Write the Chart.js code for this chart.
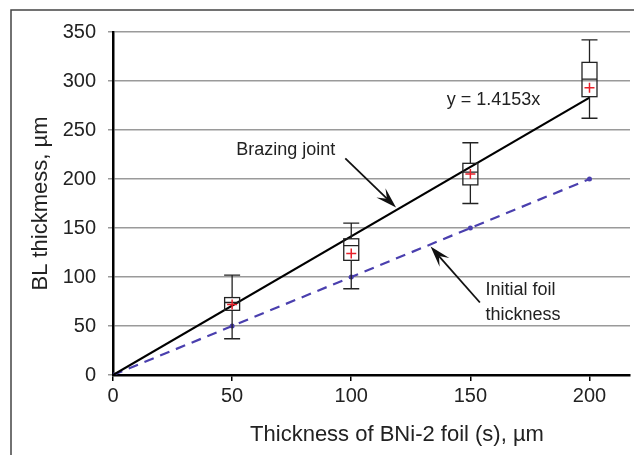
<!DOCTYPE html>
<html>
<head>
<meta charset="utf-8">
<script src="https://cdn.jsdelivr.net/npm/chart.js@4"></script>
<style>
  html, body { margin: 0; padding: 0; background: #fff; }
  #wrap { width: 634px; height: 455px; position: relative; }
</style>
</head>
<body>
<div id="wrap"><canvas id="chart" width="634" height="455"></canvas></div>
<script>
// foil thickness categories (x), µm
const foilX = [50, 100, 150, 200];
// box plot stats of measured BL thickness
const whiskerLow  = [37, 88, 175, 262];
const boxQ1       = [66, 117, 194, 284];
const boxMedian   = [74, 132, 207, 302];
const boxQ3       = [79, 139, 216, 319];
const whiskerHigh = [102, 155, 237, 342];
const meanValues  = [72, 124, 205, 293];
// regression line y = 1.4153x (end points)
const fitX = [0, 200];
const fitY = [0, 283];
// initial foil thickness
const initX = [0, 50, 100, 150, 200];
const initY = [0, 50, 100, 150, 200];
const xTicks = [0, 50, 100, 150, 200];
const yTicks = [0, 50, 100, 150, 200, 250, 300, 350];

const FONT = "'Liberation Sans', Arial, sans-serif";

// frame + box plots + annotations
const extras = {
  id: 'extras',
  beforeDraw(chart) {
    const c = chart.ctx;
    c.save();
    c.fillStyle = '#fff';
    c.fillRect(0, 0, chart.width, chart.height);
    c.strokeStyle = '#444';
    c.lineWidth = 1.5;
    c.beginPath();
    c.moveTo(11, chart.height);
    c.lineTo(11, 10);
    c.lineTo(chart.width, 10);
    c.stroke();
    c.restore();
  },
  afterDatasetsDraw(chart) {
    const c = chart.ctx, xs = chart.scales.x, ys = chart.scales.y;
    c.save();
    c.strokeStyle = '#222';
    c.lineWidth = 1.3;
    foilX.forEach((v, i) => {
      const px = xs.getPixelForValue(v);
      const hw = 7.5, cap = 8;
      const yl = ys.getPixelForValue(whiskerLow[i]);
      const y1 = ys.getPixelForValue(boxQ1[i]);
      const ym = ys.getPixelForValue(boxMedian[i]);
      const y3 = ys.getPixelForValue(boxQ3[i]);
      const yh = ys.getPixelForValue(whiskerHigh[i]);
      c.beginPath();
      c.moveTo(px, yh); c.lineTo(px, y3);
      c.moveTo(px, y1); c.lineTo(px, yl);
      c.moveTo(px - cap, yh); c.lineTo(px + cap, yh);
      c.moveTo(px - cap, yl); c.lineTo(px + cap, yl);
      c.moveTo(px - hw, ym); c.lineTo(px + hw, ym);
      c.stroke();
      c.strokeRect(px - hw, y3, hw * 2, y1 - y3);
    });
    // red mean markers on top of boxes
    c.strokeStyle = '#e8202a';
    c.lineWidth = 1.5;
    meanValues.forEach((m, i) => {
      const px = xs.getPixelForValue(foilX[i]), py = ys.getPixelForValue(m);
      c.beginPath();
      c.moveTo(px - 5, py); c.lineTo(px + 5, py);
      c.moveTo(px, py - 5); c.lineTo(px, py + 5);
      c.stroke();
    });

    // annotations
    const P = (x, y) => [xs.getPixelForValue(x), ys.getPixelForValue(y)];
    const arrow = (from, to) => {
      const [x0, y0] = P(...from), [x1, y1] = P(...to);
      const a = Math.atan2(y1 - y0, x1 - x0), L = 21, W = 6.5;
      c.strokeStyle = '#111'; c.fillStyle = '#111'; c.lineWidth = 1.8;
      c.beginPath(); c.moveTo(x0, y0);
      c.lineTo(x1 - Math.cos(a) * L * 0.6, y1 - Math.sin(a) * L * 0.6); c.stroke();
      c.beginPath();
      c.moveTo(x1, y1);
      c.lineTo(x1 - Math.cos(a) * L - Math.sin(a) * W, y1 - Math.sin(a) * L + Math.cos(a) * W);
      c.lineTo(x1 - Math.cos(a) * L * 0.6, y1 - Math.sin(a) * L * 0.6);
      c.lineTo(x1 - Math.cos(a) * L + Math.sin(a) * W, y1 - Math.sin(a) * L - Math.cos(a) * W);
      c.closePath(); c.fill();
    };
    arrow([97.5, 221], [118.8, 171]);
    arrow([154, 74], [133.3, 131]);

    c.fillStyle = '#222';
    c.font = '18px ' + FONT;
    c.textBaseline = 'middle';
    c.textAlign = 'center';
    let [tx, ty] = P(72.5, 229.5); c.fillText('Brazing joint', tx, ty);
    [tx, ty] = P(159.7, 280.5); c.fillText('y = 1.4153x', tx, ty);
    c.textAlign = 'left';
    [tx, ty] = P(156.3, 86.7); c.fillText('Initial foil', tx, ty);
    [tx, ty] = P(156.3, 61.2); c.fillText('thickness', tx, ty);

    // x axis title (sits right of the plot centre in the original)
    c.font = '22px ' + FONT;
    c.textAlign = 'center';
    c.fillText('Thickness of BNi-2 foil (s), µm', 397, 435);
    c.restore();
  }
};

new Chart(document.getElementById('chart'), {
  type: 'scatter',
  data: {
    datasets: [
      {
        label: 'Brazing joint',
        data: fitX.map((x, i) => ({ x, y: fitY[i] })),
        showLine: true,
        borderColor: '#000',
        borderWidth: 2.2,
        pointRadius: 0
      },
      {
        label: 'Initial foil thickness',
        data: initX.map((x, i) => ({ x, y: initY[i] })),
        showLine: true,
        borderColor: '#4a3fae',
        backgroundColor: '#4a3fae',
        borderWidth: 2.2,
        borderDash: [10, 7],
        pointRadius: 2.5,
        pointBorderWidth: 0
      }
    ]
  },
  plugins: [extras],
  options: {
    responsive: false,
    animation: false,
    layout: { padding: { left: 0, right: 0, top: 32, bottom: 0 } },
    plugins: { legend: { display: false }, tooltip: { enabled: false } },
    scales: {
      x: {
        type: 'linear',
        min: 0, max: 217,
        afterBuildTicks: s => { s.ticks = xTicks.map(v => ({ value: v })); },
        afterFit: s => { s.height = 80; },
        border: { color: '#000', width: 2.5 },
        grid: { drawOnChartArea: false, color: '#000', tickLength: 6, lineWidth: 1.5 },
        ticks: { color: '#222', padding: 3, font: { family: FONT, size: 20 } }
      },
      y: {
        min: 0, max: 350,
        afterBuildTicks: s => { s.ticks = yTicks.map(v => ({ value: v })); },
        afterFit: s => { s.width = 113; },
        border: { color: '#000', width: 2.5 },
        grid: { color: '#9a9a9a', lineWidth: 1.5, tickLength: 5 },
        ticks: { color: '#222', padding: 12, font: { family: FONT, size: 20 } },
        title: {
          display: true, text: 'BL thickmess, µm', color: '#222',
          font: { family: FONT, size: 22 }, padding: { top: 28, bottom: 0 }
        }
      }
    }
  }
});
</script>
</body>
</html>
